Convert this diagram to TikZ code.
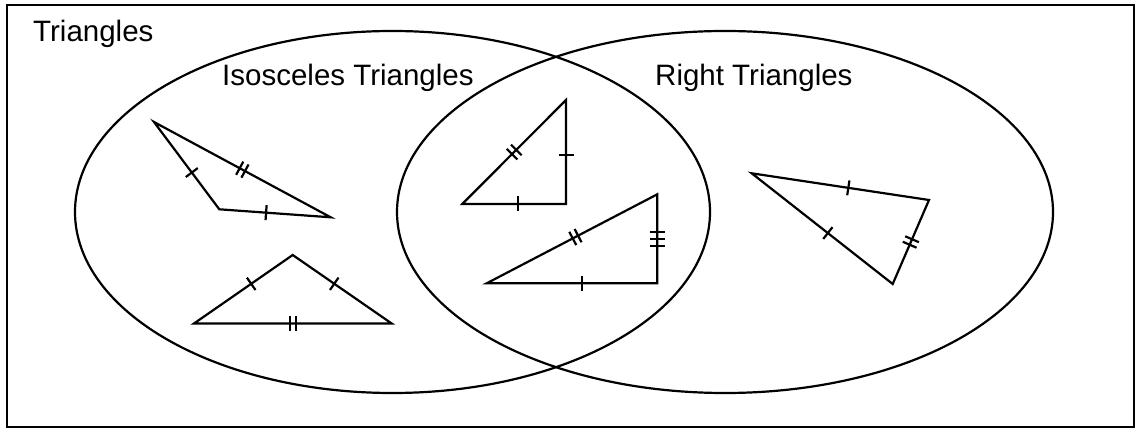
\documentclass[tikz,border=0pt]{standalone}
\usepackage{fontspec}
\setmainfont{Liberation Sans}
\usetikzlibrary{decorations.markings}
\tikzset{
  ln/.style={line width=2.2pt, line join=miter},
  onetick/.style={postaction={decorate},decoration={markings,
    mark=at position #1 with {\draw[line width=2.2pt] (0,-7.5pt) -- (0,7.5pt);}}},
  onetick/.default=0.5,
  twotick/.style={postaction={decorate},decoration={markings,
    mark=at position #1 with {\draw[line width=2.2pt] (-3pt,-7.5pt) -- (-3pt,7.5pt) (3pt,-7.5pt) -- (3pt,7.5pt);}}},
  twotick/.default=0.5,
  threetick/.style={postaction={decorate},decoration={markings,
    mark=at position 0.5 with {\draw[line width=2.2pt] (-7pt,-7.5pt) -- (-7pt,7.5pt) (0pt,-7.5pt) -- (0pt,7.5pt) (7pt,-7.5pt) -- (7pt,7.5pt);}}},
  lbl/.style={inner sep=0pt, anchor=base west, font=\fontsize{29.5}{33}\selectfont}
}
\begin{document}
\begin{tikzpicture}[x=1pt,y=-1pt]
\useasboundingbox (0,0) rectangle (1140,435);
\fill[white] (0,0) rectangle (1140,435);
\draw[line width=2.2pt] (7,5) rectangle (1134,427);
\node[lbl] (tri) at (33,42) {Triangles};
\node[lbl] (iso) at (222,86) {Isosceles Triangles};
\node[lbl] (rt) at (655,86) {Right Triangles};
\draw[ln] (392.5,212) ellipse [x radius=317.5pt, y radius=181pt];
\draw[ln] (725,212) ellipse [x radius=328pt, y radius=181pt];
% T1
\coordinate (a1) at (154,122);
\coordinate (b1) at (219.3,209.3);
\coordinate (c1) at (330.7,217.3);
\draw[ln] (a1) -- (b1) -- (c1) -- cycle;
\path[onetick=0.58] (a1) -- (b1);
\path[onetick=0.42] (b1) -- (c1);
\path[twotick] (a1) -- (c1);
% T2
\coordinate (a2) at (292.7,255);
\coordinate (b2) at (194,323.5);
\coordinate (c2) at (391.7,323.5);
\draw[ln] (a2) -- (b2) -- (c2) -- cycle;
\path[onetick=0.58] (b2) -- (a2);
\path[onetick=0.42] (a2) -- (c2);
\path[twotick] (b2) -- (c2);
% T3
\coordinate (a3) at (566,100);
\coordinate (b3) at (462.3,204);
\coordinate (c3) at (566,204);
\draw[ln] (a3) -- (b3) -- (c3) -- cycle;
\path[twotick] (b3) -- (a3);
\path[onetick=0.53] (a3) -- (c3);
\path[onetick=0.54] (b3) -- (c3);
% T4
\coordinate (a4) at (657.3,194.3);
\coordinate (b4) at (486.7,283.3);
\coordinate (c4) at (657.3,283.3);
\draw[ln] (a4) -- (b4) -- (c4) -- cycle;
\path[twotick=0.52] (b4) -- (a4);
\path[threetick] (a4) -- (c4);
\path[onetick=0.56] (b4) -- (c4);
% T5
\coordinate (a5) at (751.7,173.3);
\coordinate (b5) at (929,200);
\coordinate (c5) at (892.7,284);
\draw[ln] (a5) -- (b5) -- (c5) -- cycle;
\path[onetick=0.545] (a5) -- (b5);
\path[onetick=0.54] (a5) -- (c5);
\path[twotick] (b5) -- (c5);
\end{tikzpicture}
\end{document}
